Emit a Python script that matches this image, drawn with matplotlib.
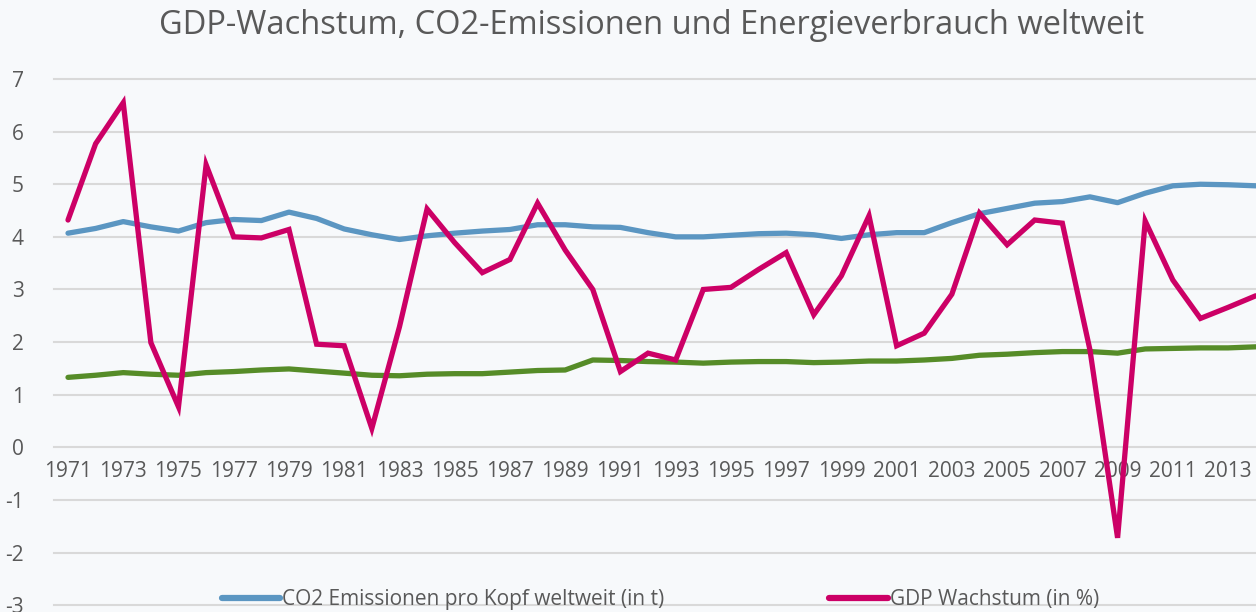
import matplotlib
matplotlib.use("Agg")
import matplotlib.pyplot as plt

years = list(range(1971, 2015))
co2 = [4.07, 4.16, 4.29, 4.19, 4.11, 4.27, 4.33, 4.31, 4.47, 4.35,
       4.15, 4.04, 3.95, 4.02, 4.07, 4.11, 4.14, 4.23, 4.23, 4.19,
       4.18, 4.08, 4.00, 4.00, 4.03, 4.06, 4.07, 4.04, 3.97, 4.04,
       4.08, 4.08, 4.27, 4.44, 4.54, 4.64, 4.67, 4.76, 4.65, 4.83,
       4.97, 5.00, 4.99, 4.97]
gdp = [4.32, 5.77, 6.55, 1.99, 0.77, 5.37, 4.00, 3.98, 4.14, 1.96,
       1.93, 0.36, 2.29, 4.53, 3.89, 3.32, 3.57, 4.64, 3.75, 3.00,
       1.44, 1.79, 1.66, 3.00, 3.04, 3.38, 3.70, 2.52, 3.26, 4.40,
       1.93, 2.17, 2.91, 4.45, 3.85, 4.32, 4.26, 1.85, -1.72, 4.30,
       3.18, 2.45, 2.66, 2.88]
energy = [1.33, 1.37, 1.42, 1.39, 1.37, 1.42, 1.44, 1.47, 1.49, 1.45,
          1.41, 1.37, 1.36, 1.39, 1.40, 1.40, 1.43, 1.46, 1.47, 1.66,
          1.65, 1.63, 1.62, 1.60, 1.62, 1.63, 1.63, 1.61, 1.62, 1.64,
          1.64, 1.66, 1.69, 1.75, 1.77, 1.80, 1.82, 1.82, 1.79, 1.87,
          1.88, 1.89, 1.89, 1.91]
tick_years = list(range(1971, 2015, 2))
y_ticks = list(range(-3, 8))

title = "GDP-Wachstum, CO2-Emissionen und Energieverbrauch weltweit"
label_co2 = "CO2 Emissionen pro Kopf weltweit (in t)"
label_gdp = "GDP Wachstum (in %)"

bg = "#F7F9FB"
txt = "#595959"
plt.rcParams['font.family'] = ['Open Sans', 'DejaVu Sans']

fig = plt.figure(figsize=(12.56, 6.12), dpi=100, facecolor=bg)
ax = fig.add_axes([54.2 / 1256, 6.8 / 612, 1215.3 / 1256, 526.2 / 612], facecolor=bg)

l1, = ax.plot(years, co2, color="#5B96C2", lw=3.8, solid_capstyle="round", solid_joinstyle="round", zorder=3)
l2, = ax.plot(years, gdp, color="#CC0066", lw=3.8, solid_capstyle="round", solid_joinstyle="miter", zorder=4)
l3, = ax.plot(years, energy, color="#568C28", lw=3.8, solid_capstyle="round", solid_joinstyle="round", zorder=2)

ax.set_xlim(1970.5, 2014.5)
ax.set_ylim(-3, 7)
ax.set_yticks(y_ticks)
ax.set_yticklabels([str(v) for v in y_ticks])
ax.set_xticks(tick_years)
ax.set_xticklabels([str(v) for v in tick_years])
ax.grid(axis="y", color="#D9D9D9", lw=1.5, clip_on=False)
ax.set_axisbelow(True)
for s in ax.spines.values():
    s.set_visible(False)
ax.spines['bottom'].set_position(('data', 0))
ax.tick_params(axis="both", length=0, labelsize=15, colors=txt)
ax.tick_params(axis="x", pad=10)
ax.tick_params(axis="y", pad=22)
for lab in ax.get_yticklabels():
    lab.set_horizontalalignment("right")

fig.text(652 / 1256, 1 - 26 / 612, title, ha="center", va="center", fontsize=23.5, color=txt)

leg = fig.legend([l1, l2], [label_co2, label_gdp], loc="center left",
                 bbox_to_anchor=(222 / 1256, 12 / 612), ncol=2, frameon=False,
                 fontsize=15, handlelength=2.8, handletextpad=0.1,
                 columnspacing=7.9, borderaxespad=0, borderpad=0)
for t in leg.get_texts():
    t.set_color(txt)
for h in leg.get_lines():
    h.set_linewidth(4.5)

fig.savefig("out.png", dpi=100, facecolor=bg)
